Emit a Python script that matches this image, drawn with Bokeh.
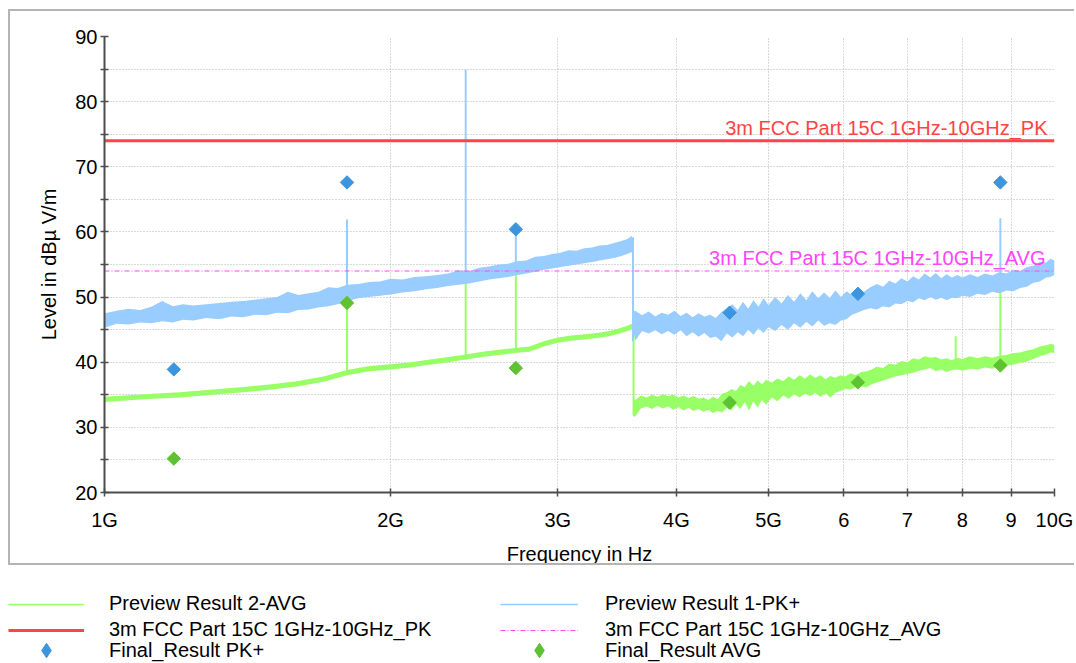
from bokeh.plotting import figure
from bokeh.models import Range1d, FixedTicker, Legend, LegendItem
from bokeh.layouts import column
from bokeh.core.properties import value
from bokeh.embed import file_html
from bokeh.resources import INLINE

# ---------------- data (frequencies in GHz, levels in dBuV/m) ----------------
BLUE_F = [1.00, 1.03, 1.06, 1.09, 1.12, 1.15, 1.18, 1.21, 1.24, 1.28, 1.32, 1.36, 1.40, 1.44,
          1.48, 1.52, 1.56, 1.60, 1.64, 1.68, 1.72, 1.76, 1.80, 1.85, 1.90, 1.95, 2.00, 2.06,
          2.12, 2.18, 2.24, 2.30, 2.36, 2.42, 2.48, 2.54, 2.60, 2.66, 2.72, 2.78, 2.84, 2.90,
          2.96, 3.02, 3.08, 3.14, 3.20, 3.26, 3.32, 3.38, 3.44, 3.50, 3.55, 3.59, 3.605,
          3.62, 3.68, 3.74, 3.80, 3.86, 3.92, 3.98, 4.04, 4.10, 4.16, 4.22, 4.28, 4.34, 4.40,
          4.46, 4.52, 4.58, 4.64, 4.70, 4.76, 4.82, 4.88, 4.94, 5.00, 5.08, 5.16, 5.24, 5.32,
          5.40, 5.48, 5.56, 5.64, 5.72, 5.80, 5.88, 5.96, 6.04, 6.12, 6.20, 6.30, 6.40, 6.50,
          6.60, 6.70, 6.80, 6.90, 7.00, 7.10, 7.20, 7.30, 7.40, 7.50, 7.60, 7.70, 7.80, 7.90,
          8.00, 8.15, 8.30, 8.45, 8.60, 8.75, 8.90, 9.05, 9.20, 9.35, 9.50, 9.65, 9.80, 9.90, 10.0]
BLUE_LO = [45.3, 45.9, 45.8, 46.1, 46.0, 46.3, 46.1, 46.5, 46.4, 46.8, 46.6, 47.0, 46.9, 47.3,
           47.2, 47.6, 47.5, 48.0, 48.1, 48.4, 48.6, 48.9, 49.4, 49.8, 50.0, 50.2, 50.4, 50.7,
           50.9, 51.2, 51.4, 51.7, 51.9, 52.1, 52.4, 52.7, 52.9, 53.1, 53.4, 53.6, 53.9, 54.2,
           54.4, 54.6, 54.8, 55.0, 55.2, 55.4, 55.6, 55.8, 56.0, 56.3, 56.6, 56.9, 44.8,
           43.3, 44.8, 44.4, 44.9, 44.3, 44.8, 44.2, 44.9, 44.0, 44.6, 43.9, 44.5, 43.7, 43.9,
           43.2, 44.4, 43.8, 44.6, 44.0, 45.0, 44.2, 45.2, 44.5, 45.4, 44.8, 45.7, 45.0, 46.0,
           45.3, 46.2, 45.5, 46.4, 45.6, 46.0, 45.7, 46.4, 46.6, 47.3, 47.6, 48.0, 48.3, 48.1,
           48.6, 48.4, 49.0, 48.9, 49.4, 49.2, 49.8, 49.5, 50.0, 49.6, 49.9, 49.5, 49.9, 49.8,
           50.2, 50.0, 50.5, 50.3, 50.8, 50.6, 51.0, 50.9, 51.4, 51.6, 52.2, 52.4, 53.0, 53.1, 53.4]
BLUE_HI = [47.5, 47.9, 48.2, 48.0, 48.5, 49.4, 48.6, 48.9, 48.7, 48.9, 49.1, 49.3, 49.4, 49.6,
           49.8, 50.0, 50.8, 50.3, 50.6, 50.8, 51.5, 51.4, 51.9, 52.0, 52.3, 52.4, 52.8, 52.7,
           53.1, 53.2, 53.4, 53.6, 54.1, 54.0, 54.5, 54.7, 55.0, 55.1, 55.5, 55.6, 56.2, 56.3,
           56.6, 56.8, 57.2, 57.1, 57.5, 57.6, 57.9, 58.0, 58.3, 58.6, 58.9, 59.4, 47.8,
           47.9, 47.2, 47.8, 47.0, 47.6, 47.3, 47.9, 47.1, 47.6, 46.9, 47.5, 47.0, 47.3, 46.8,
           47.7, 48.3, 48.9, 48.0, 49.3, 48.2, 49.5, 48.5, 49.8, 48.8, 50.0, 49.0, 50.3, 49.3,
           50.6, 49.5, 50.9, 49.8, 50.7, 49.9, 51.0, 50.0, 50.9, 50.3, 51.1, 50.8, 51.5, 52.0,
           51.6, 52.5, 52.1, 52.9, 52.4, 53.2, 52.7, 53.6, 53.0, 53.7, 52.9, 53.5, 53.0, 53.4,
           53.0, 53.5, 53.1, 53.6, 53.3, 53.8, 53.6, 54.2, 54.0, 54.6, 54.8, 55.4, 55.3, 55.9, 55.6]

GREEN_F = [1.00, 1.10, 1.20, 1.30, 1.40, 1.50, 1.60, 1.70, 1.80, 1.90, 2.00, 2.10, 2.20, 2.30,
           2.40, 2.50, 2.60, 2.70, 2.80, 2.90, 3.00, 3.10, 3.20, 3.30, 3.40, 3.50, 3.55, 3.60,
           3.607, 3.62, 3.67, 3.72, 3.77, 3.82, 3.87, 3.92, 3.97, 4.02, 4.07, 4.12, 4.17, 4.22,
           4.27, 4.32, 4.37, 4.42, 4.47, 4.52, 4.57, 4.62, 4.67, 4.72, 4.77, 4.82, 4.87, 4.92,
           4.97, 5.04, 5.11, 5.18, 5.25, 5.32, 5.39, 5.46, 5.53, 5.60, 5.67, 5.74, 5.81, 5.88,
           5.95, 6.02, 6.10, 6.18, 6.26, 6.34, 6.42, 6.50, 6.60, 6.70, 6.80, 6.90, 7.00, 7.10,
           7.20, 7.30, 7.40, 7.50, 7.60, 7.70, 7.80, 7.90, 8.00, 8.15, 8.30, 8.45, 8.60, 8.75,
           8.90, 9.05, 9.20, 9.35, 9.50, 9.65, 9.80, 9.90, 10.0]
GREEN_LO = [33.9, 34.3, 34.6, 35.0, 35.4, 35.8, 36.3, 37.0, 38.0, 38.6, 38.9, 39.2, 39.6, 40.0,
            40.4, 40.8, 41.1, 41.4, 41.6, 42.4, 43.0, 43.3, 43.5, 43.7, 44.0, 44.5, 44.8, 45.1,
            31.6, 31.7, 32.9, 33.2, 32.8, 33.3, 32.9, 33.2, 32.7, 33.1, 32.6, 33.0, 32.5, 32.8,
            32.4, 32.7, 32.2, 32.5, 32.3, 33.0, 32.6, 33.5, 32.8, 33.9, 32.6, 34.0, 33.0, 34.2,
            33.5, 34.6, 34.0, 34.9, 34.4, 35.1, 34.6, 35.2, 34.8, 35.3, 34.7, 35.2, 34.6, 35.3,
            35.6, 35.9, 35.8, 36.2, 36.3, 36.1, 36.6, 36.9, 37.2, 37.5, 37.8, 38.0, 38.2, 38.4,
            38.7, 38.9, 39.1, 38.6, 38.9, 38.5, 38.8, 38.9, 38.7, 39.0, 38.9, 39.2, 39.0, 39.3,
            39.5, 39.6, 39.9, 40.1, 40.5, 40.9, 41.2, 41.5, 41.4]
GREEN_HI = [34.7, 35.1, 35.4, 35.8, 36.2, 36.6, 37.1, 37.8, 38.8, 39.4, 39.7, 40.0, 40.4, 40.8,
            41.2, 41.6, 41.9, 42.2, 42.4, 43.2, 43.8, 44.1, 44.3, 44.5, 44.8, 45.3, 45.6, 46.0,
            34.4, 34.2, 34.9, 34.6, 35.0, 34.7, 35.1, 34.8, 35.0, 34.6, 34.9, 34.5, 34.8, 34.4,
            34.6, 34.2, 34.7, 34.3, 35.2, 35.4, 35.9, 35.6, 36.5, 36.2, 37.1, 36.4, 37.2, 36.6,
            37.3, 36.9, 37.5, 37.1, 37.8, 37.3, 38.0, 37.5, 38.1, 37.6, 38.0, 37.4, 37.9, 37.6,
            38.0, 37.8, 38.3, 38.0, 38.5, 38.6, 38.9, 39.3, 39.1, 39.8, 39.6, 40.2, 40.0, 40.6,
            40.4, 40.9, 40.7, 40.8, 40.4, 40.6, 40.3, 40.7, 40.5, 40.9, 40.6, 40.9, 40.7, 41.0,
            41.1, 41.4, 41.5, 41.8, 42.0, 42.4, 42.6, 42.8, 42.7]

BLUE_SPIKE_F = [1.80, 2.40, 2.71, 3.60, 8.77]
BLUE_SPIKE_BASE = [51.0, 53.0, 54.5, 43.2, 52.5]
BLUE_SPIKE_TOP = [61.9, 84.9, 59.8, 59.2, 62.1]

GREEN_SPIKE_F = [1.80, 2.40, 2.71, 3.605, 7.87, 8.77]
GREEN_SPIKE_BASE = [38.7, 40.9, 41.8, 31.8, 40.0, 39.8]
GREEN_SPIKE_TOP = [49.2, 52.5, 53.6, 45.6, 44.0, 51.0]

FINAL_F = [1.183, 1.80, 2.71, 4.55, 6.21, 8.77]
FINAL_PK = [38.9, 67.6, 60.4, 47.6, 50.5, 67.6]
FINAL_AVG = [25.2, 49.1, 39.1, 33.8, 36.9, 39.5]

LIMIT_F = [1.0, 10.0]
LIMIT_PK = [74.0, 74.0]
LIMIT_AVG = [54.0, 54.0]
LIMIT_PK_NAME = "3m FCC Part 15C 1GHz-10GHz_PK"
LIMIT_AVG_NAME = "3m FCC Part 15C 1GHz-10GHz_AVG"

X_TICKS = [1, 2, 3, 4, 5, 6, 7, 8, 9, 10]
X_TICK_LABELS = ["1G", "2G", "3G", "4G", "5G", "6", "7", "8", "9", "10G"]
Y_TICKS = [20, 30, 40, 50, 60, 70, 80, 90]
Y_MINOR = [25, 35, 45, 55, 65, 75, 85]

LEGEND_1 = ["Preview Result 2-AVG", LIMIT_PK_NAME, "Final_Result PK+"]
LEGEND_2 = ["Preview Result 1-PK+", LIMIT_AVG_NAME, "Final_Result AVG"]

# ---------------- styling ----------------
FONT = "Liberation Sans"
FS = "20px"
C_BLUE = "#99ccff"
C_GREEN = "#99ff66"
C_RED = "#ff4444"
C_MAG = "#ff44ff"
C_PK = "#3d95dd"
C_AVG = "#5fc232"
AX = "#4d4d4d"
BOX = "2px solid #b4b4b4"

p = figure(width=1066, height=556, x_axis_type="log",
           x_range=Range1d(1, 10), y_range=Range1d(20, 90),
           output_backend="svg", toolbar_location=None,
           min_border_left=94, min_border_right=22, min_border_top=25, min_border_bottom=74,
           margin=(9, 0, 0, 8),
           styles={"border-left": BOX, "border-top": BOX, "border-bottom": BOX,
                   "border-right-width": "0px", "border-right-style": "none"})
p.frame_align = False
p.outline_line_color = None
p.background_fill_color = "white"
p.border_fill_color = "white"

xt = FixedTicker(ticks=X_TICKS, minor_ticks=[])
yt = FixedTicker(ticks=Y_TICKS, minor_ticks=Y_MINOR)
p.xaxis.ticker = xt
p.yaxis.ticker = yt
p.xgrid.ticker = xt
p.ygrid.ticker = yt
p.xaxis.major_label_overrides = {t: s for t, s in zip(X_TICKS, X_TICK_LABELS)}

for g in (p.xgrid, p.ygrid):
    g.grid_line_color = "#b4b4b4"
    g.grid_line_dash = "1 2"
    g.grid_line_width = 1
p.ygrid.minor_grid_line_color = "#b4b4b4"
p.ygrid.minor_grid_line_dash = "1 2"

for ax in (p.xaxis, p.yaxis):
    ax.axis_line_color = AX
    ax.axis_line_width = 2
    ax.major_tick_line_color = AX
    ax.major_tick_line_width = 1.5
    ax.major_tick_in = 4
    ax.major_tick_out = 4
    ax.minor_tick_line_color = AX
    ax.minor_tick_line_width = 1.5
    ax.minor_tick_in = 4
    ax.minor_tick_out = 4
    ax.major_label_text_font = FONT
    ax.major_label_text_font_size = FS
    ax.major_label_text_color = "black"
    ax.axis_label_text_font = FONT
    ax.axis_label_text_font_size = FS
    ax.axis_label_text_font_style = "normal"
    ax.axis_label_text_color = "black"

p.xaxis.axis_label = "Frequency in Hz"
p.yaxis.axis_label = "Level in dBµ V/m"
p.xaxis.major_label_standoff = 12
p.xaxis.axis_label_standoff = 9
p.yaxis.major_label_standoff = 3
p.yaxis.axis_label_standoff = 12

# traces
p.varea(x=GREEN_F, y1=GREEN_LO, y2=GREEN_HI, fill_color=C_GREEN)
p.segment(x0=GREEN_SPIKE_F, y0=GREEN_SPIKE_BASE, x1=GREEN_SPIKE_F, y1=GREEN_SPIKE_TOP,
          line_color=C_GREEN, line_width=2)
p.varea(x=BLUE_F, y1=BLUE_LO, y2=BLUE_HI, fill_color=C_BLUE)
p.segment(x0=BLUE_SPIKE_F, y0=BLUE_SPIKE_BASE, x1=BLUE_SPIKE_F, y1=BLUE_SPIKE_TOP,
          line_color=C_BLUE, line_width=2)

# limit lines
p.line(LIMIT_F, LIMIT_PK, line_color=C_RED, line_width=3)
p.line(LIMIT_F, LIMIT_AVG, line_color=C_MAG, line_width=1, line_dash="5 2 1 2")
p.text(x=[LIMIT_F[-1]], y=[LIMIT_PK[-1]], text=[LIMIT_PK_NAME], text_color=C_RED,
       text_font=value(FONT), text_font_size=value(FS), text_align="right",
       text_baseline="middle", x_offset=-7, y_offset=-13)
p.text(x=[LIMIT_F[-1]], y=[LIMIT_AVG[-1]], text=[LIMIT_AVG_NAME], text_color=C_MAG,
       text_font=value(FONT), text_font_size=value(FS), text_align="right",
       text_baseline="middle", x_offset=-9, y_offset=-13)

# final results
p.scatter(FINAL_F, FINAL_PK, marker="square", angle=0.785398, size=9.5,
          fill_color=C_PK, line_color=C_PK)
p.scatter(FINAL_F, FINAL_AVG, marker="square", angle=0.785398, size=9.5,
          fill_color=C_AVG, line_color=C_AVG)

# ---------------- legend panel below the chart box ----------------
# legend swatches are proxy renderers of the same series, lying outside this
# panel's (empty) data window, so only their legend samples are visible
q = figure(width=1060, height=98, x_range=Range1d(100, 101), y_range=Range1d(100, 101),
           output_backend="svg", toolbar_location=None, min_border=0,
           min_border_left=0, min_border_right=0, min_border_top=0, min_border_bottom=0,
           x_axis_location=None, y_axis_location=None)
q.frame_align = False
q.outline_line_color = None
q.grid.visible = False
lg_green = q.line(GREEN_F, GREEN_LO, line_color=C_GREEN, line_width=1.5)
lg_red = q.line(LIMIT_F, LIMIT_PK, line_color=C_RED, line_width=3)
lg_pk = q.scatter(FINAL_F, FINAL_PK, marker="diamond", fill_color=C_PK, line_color=C_PK)
lg_blue = q.line(BLUE_F, BLUE_LO, line_color=C_BLUE, line_width=1.5)
lg_mag = q.line(LIMIT_F, LIMIT_AVG, line_color=C_MAG, line_width=1, line_dash="5 2 1 2")
lg_avg = q.scatter(FINAL_F, FINAL_AVG, marker="diamond", fill_color=C_AVG, line_color=C_AVG)


def make_legend(labels, rends, loc, gw, gh, standoff, spacing):
    return Legend(items=[LegendItem(label=l, renderers=[r]) for l, r in zip(labels, rends)],
                  location=loc, orientation="vertical",
                  border_line_color=None, background_fill_alpha=0,
                  padding=0, margin=0, spacing=spacing,
                  glyph_width=gw, glyph_height=gh, label_standoff=standoff,
                  label_text_font=FONT, label_text_font_size=FS, label_text_color="black")


# lines (rows 1-2) and markers (row 3) in separate blocks so the markers get a larger sample
q.add_layout(make_legend(LEGEND_1[:2], [lg_green, lg_red], (8, 22), 76, 22, 25, 3), "center")
q.add_layout(make_legend(LEGEND_2[:2], [lg_blue, lg_mag], (500, 22), 78, 22, 27, 3), "center")
q.add_layout(make_legend(LEGEND_1[2:], [lg_pk], (8, -5), 76, 36, 25, 0), "center")
q.add_layout(make_legend(LEGEND_2[2:], [lg_avg], (500, -5), 78, 36, 27, 0), "center")

layout = column(p, q, spacing=0)
open("out.html", "w").write(file_html(layout, INLINE))
